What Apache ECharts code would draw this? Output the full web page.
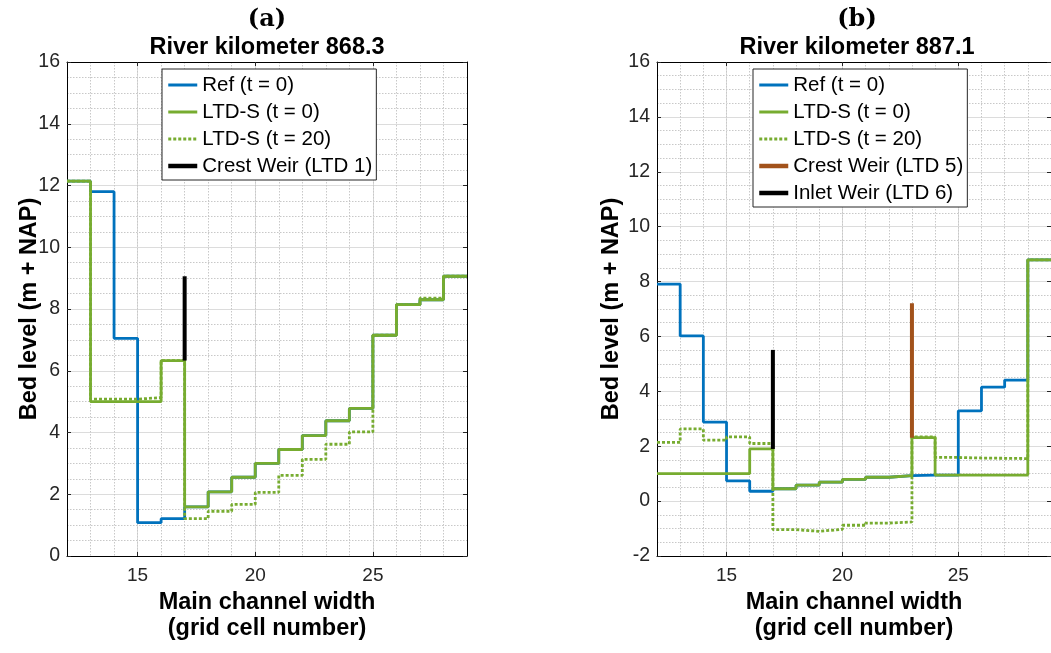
<!DOCTYPE html>
<html style="height: 100%">
<head>
    <meta charset="utf-8">
    <script src="https://cdn.jsdelivr.net/npm/echarts@6/dist/echarts.min.js"></script>
</head>
<body style="height: 100%; margin: 0; background: #fff">
<div id="container" style="width: 1051px; height: 653px"></div>

<script type="text/javascript">
    // grid cell edges (stairs run from one edge to the next)
    var cellEdges = [12, 13, 14, 15, 16, 17, 18, 19, 20, 21, 22, 23, 24, 25, 26, 27, 28, 29];
    var xTicks = [15, 20, 25];

    // (a) River kilometer 868.3 - bed level per cell 12..28
    var refA   = [12.14, 11.80, 7.05, 1.08, 1.21, 1.59, 2.08, 2.55, 3.00, 3.45, 3.90, 4.38, 4.78, 7.15, 8.14, 8.30, 9.06];
    var ltd0A  = [12.14, 5.00, 5.00, 5.00, 6.33, 1.59, 2.08, 2.55, 3.00, 3.45, 3.90, 4.38, 4.78, 7.15, 8.14, 8.30, 9.06];
    var ltd20A = [12.14, 5.08, 5.08, 5.13, 6.33, 1.21, 1.45, 1.67, 2.06, 2.61, 3.13, 3.62, 4.02, 7.15, 8.14, 8.35, 9.06];
    var crestWeirA = {x: 17, y: [6.33, 9.06]};

    // (b) River kilometer 887.1
    var refB   = [7.91, 6.02, 2.88, 0.74, 0.36, 0.45, 0.58, 0.69, 0.79, 0.87, 0.93, 0.95, 0.95, 3.29, 4.15, 4.41, 8.79];
    var ltd0B  = [1.00, 1.00, 1.00, 1.00, 1.90, 0.45, 0.58, 0.69, 0.79, 0.87, 0.93, 2.31, 0.95, 0.95, 0.95, 0.95, 8.79];
    var ltd20B = [2.14, 2.63, 2.22, 2.34, 2.10, -1.04, -1.10, -1.03, -0.88, -0.80, -0.76, 2.34, 1.59, 1.57, 1.56, 1.55, 8.79];
    var crestWeirB = {x: 23, y: [2.31, 7.21]};
    var inletWeirB = {x: 17, y: [1.90, 5.51]};

    var BLUE = '#0072BD', GREEN = '#77AC30', BROWN = '#A2521B', AX = '#262626';
    var FONT = '"Liberation Sans", Arial, sans-serif';

    // like matlab stairs(): last value held until the last edge
    function stairs(vals) {
        return cellEdges.map(function (x, i) {
            return [x, vals[Math.min(i, vals.length - 1)]];
        });
    }
    function weir(w) {
        return w.y.map(function (v) { return [w.x, v]; });
    }

    function lineSeries(name, data, gi, color, dotted) {
        return {
            name: name, type: 'line', step: 'end', data: data,
            xAxisIndex: gi * 3, yAxisIndex: gi * 2,
            symbol: 'none', clip: true,
            lineStyle: {color: color, width: 2.8, type: dotted ? [3, 2] : 'solid'},
            itemStyle: {color: color}
        };
    }
    function weirSeries(name, data, gi, color) {
        return {
            name: name, type: 'line', data: data,
            xAxisIndex: gi * 3, yAxisIndex: gi * 2,
            symbol: 'none', clip: true,
            lineStyle: {color: color, width: 4},
            itemStyle: {color: color}
        };
    }

    function xAxes(gi) {
        return [
            {   // main bottom axis
                type: 'value', gridIndex: gi, position: 'bottom', min: 12, max: 29,
                name: 'Main channel width\n(grid cell number)', nameLocation: 'middle', nameGap: 31,
                nameTextStyle: {fontFamily: FONT, fontSize: 23.5, fontWeight: 'bold', color: '#000', lineHeight: 26},
                axisLine: {show: true, onZero: false, lineStyle: {color: '#000', width: 1}},
                axisTick: {show: true, inside: true, length: 4, customValues: xTicks, lineStyle: {color: AX}},
                axisLabel: {customValues: xTicks, fontFamily: FONT, fontSize: 19, color: AX, margin: 10},
                splitLine: {show: true, lineStyle: {color: '#dcdcdc', width: 1}}
            },
            {   // minor grid every cell
                type: 'value', gridIndex: gi, position: 'bottom', min: 12, max: 29, interval: 1,
                axisLine: {show: false}, axisTick: {show: false}, axisLabel: {show: false},
                splitLine: {show: true, lineStyle: {color: '#c8c8c8', width: 1, type: [1.5, 1.5]}}
            },
            {   // top box edge
                type: 'value', gridIndex: gi, position: 'top', min: 12, max: 29,
                axisLine: {show: true, onZero: false, lineStyle: {color: '#000', width: 1}},
                axisTick: {show: true, inside: true, length: 4, customValues: xTicks, lineStyle: {color: AX}},
                axisLabel: {show: false}, splitLine: {show: false}
            }
        ];
    }
    function yAxes(gi, min, gap) {
        return [
            {
                type: 'value', gridIndex: gi, position: 'left', min: min, max: 16, interval: 2,
                name: 'Bed level (m + NAP)', nameLocation: 'middle', nameGap: gap, nameMoveOverlap: false,
                nameTextStyle: {fontFamily: FONT, fontSize: 23.5, fontWeight: 'bold', color: '#000'},
                axisLine: {show: true, onZero: false, lineStyle: {color: '#000', width: 1}},
                axisTick: {show: true, inside: true, length: 4, lineStyle: {color: AX}},
                axisLabel: {fontFamily: FONT, fontSize: 19.5, color: AX, margin: 7},
                splitLine: {show: true, lineStyle: {color: '#dcdcdc', width: 1}},
                minorTick: {show: false, splitNumber: 4},
                minorSplitLine: {show: true, lineStyle: {color: '#c8c8c8', width: 1, type: [1.5, 1.5]}}
            },
            {
                type: 'value', gridIndex: gi, position: 'right', min: min, max: 16, interval: 2,
                axisLine: {show: true, onZero: false, lineStyle: {color: '#000', width: 1}},
                axisTick: {show: true, inside: true, length: 4, lineStyle: {color: AX}},
                axisLabel: {show: false}, splitLine: {show: false}
            }
        ];
    }

    function legend(left, top, names, weirs) {
        return {
            orient: 'vertical', left: left, top: top,
            data: names.map(function (n) {
                return weirs.indexOf(n) >= 0 ? {name: n, lineStyle: {width: 4.5}} : n;
            }),
            backgroundColor: '#fff', borderColor: AX, borderWidth: 1,
            padding: [5, 4, 3, 4], itemGap: 5, itemWidth: 29, itemHeight: 14,
            selectedMode: false,
            itemStyle: {opacity: 0, borderWidth: 0},
            lineStyle: {width: 3},
            textStyle: {fontFamily: FONT, fontSize: 20.5, color: '#000', lineHeight: 22}
        };
    }

    var titleFont = {fontFamily: FONT, fontSize: 23.5, fontWeight: 'bold', color: '#000', lineHeight: 24};
    var tagFont = {fontFamily: '"DejaVu Serif", serif', fontSize: 24, fontWeight: 'bold', color: '#000', lineHeight: 26};

    var dom = document.getElementById("container");
    var myChart = echarts.init(dom, null, {renderer: 'canvas'});
    var option = {
        backgroundColor: '#fff',
        animation: false,
        title: [
            {text: '(a)', left: 267, top: 7, padding: 0, textAlign: 'center', textStyle: tagFont},
            {text: 'River kilometer 868.3', left: 267, top: 36, padding: 0, textAlign: 'center', textStyle: titleFont},
            {text: '(b)', left: 857, top: 7, padding: 0, textAlign: 'center', textStyle: tagFont},
            {text: 'River kilometer 887.1', left: 857, top: 36, padding: 0, textAlign: 'center', textStyle: titleFont}
        ],
        legend: [
            legend(162, 69, ['Ref (t = 0)', 'LTD-S (t = 0)', 'LTD-S (t = 20)', 'Crest Weir (LTD 1)'],
                ['Crest Weir (LTD 1)']),
            legend(753, 69, ['Ref (t = 0)', 'LTD-S (t = 0)', 'LTD-S (t = 20)', 'Crest Weir (LTD 5)', 'Inlet Weir (LTD 6)'],
                ['Crest Weir (LTD 5)', 'Inlet Weir (LTD 6)'])
        ],
        grid: [
            {left: 67, top: 62, width: 400, height: 494},
            {left: 657, top: 62, width: 401, height: 494}
        ],
        xAxis: xAxes(0).concat(xAxes(1)),
        yAxis: yAxes(0, 0, 25).concat(yAxes(1, -2, 33)),
        series: [
            lineSeries('Ref (t = 0)', stairs(refA), 0, BLUE, false),
            lineSeries('LTD-S (t = 0)', stairs(ltd0A), 0, GREEN, false),
            lineSeries('LTD-S (t = 20)', stairs(ltd20A), 0, GREEN, true),
            weirSeries('Crest Weir (LTD 1)', weir(crestWeirA), 0, '#000'),

            lineSeries('Ref (t = 0)', stairs(refB), 1, BLUE, false),
            lineSeries('LTD-S (t = 0)', stairs(ltd0B), 1, GREEN, false),
            lineSeries('LTD-S (t = 20)', stairs(ltd20B), 1, GREEN, true),
            weirSeries('Crest Weir (LTD 5)', weir(crestWeirB), 1, BROWN),
            weirSeries('Inlet Weir (LTD 6)', weir(inletWeirB), 1, '#000')
        ]
    };
    myChart.setOption(option);
</script>
</body>
</html>
